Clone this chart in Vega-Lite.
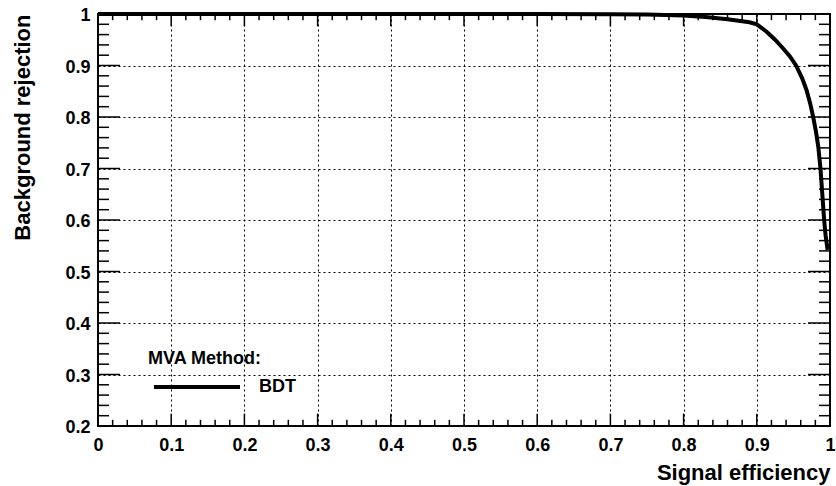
{
  "$schema": "https://vega.github.io/schema/vega-lite/v6.json",
  "width": 732,
  "height": 412,
  "autosize": "none",
  "padding": {"left": 98, "top": 14, "right": 6, "bottom": 60},
  "background": "white",
  "config": {
    "font": "Liberation Sans",
    "view": {"stroke": "black", "strokeWidth": 2}
  },
  "datasets": {
    "roc": [
      {"sig": 0.0, "bkg": 1.0, "method": "BDT"},
      {"sig": 0.1, "bkg": 1.0, "method": "BDT"},
      {"sig": 0.3, "bkg": 1.0, "method": "BDT"},
      {"sig": 0.5, "bkg": 0.9999, "method": "BDT"},
      {"sig": 0.6, "bkg": 0.9998, "method": "BDT"},
      {"sig": 0.7, "bkg": 0.9995, "method": "BDT"},
      {"sig": 0.75, "bkg": 0.999, "method": "BDT"},
      {"sig": 0.8, "bkg": 0.997, "method": "BDT"},
      {"sig": 0.83, "bkg": 0.994, "method": "BDT"},
      {"sig": 0.86, "bkg": 0.99, "method": "BDT"},
      {"sig": 0.89, "bkg": 0.984, "method": "BDT"},
      {"sig": 0.9, "bkg": 0.98, "method": "BDT"},
      {"sig": 0.913, "bkg": 0.966, "method": "BDT"},
      {"sig": 0.925, "bkg": 0.95, "method": "BDT"},
      {"sig": 0.936, "bkg": 0.933, "method": "BDT"},
      {"sig": 0.945, "bkg": 0.918, "method": "BDT"},
      {"sig": 0.9536, "bkg": 0.9, "method": "BDT"},
      {"sig": 0.962, "bkg": 0.875, "method": "BDT"},
      {"sig": 0.968, "bkg": 0.852, "method": "BDT"},
      {"sig": 0.973, "bkg": 0.826, "method": "BDT"},
      {"sig": 0.977, "bkg": 0.8, "method": "BDT"},
      {"sig": 0.981, "bkg": 0.77, "method": "BDT"},
      {"sig": 0.984, "bkg": 0.742, "method": "BDT"},
      {"sig": 0.987, "bkg": 0.7, "method": "BDT"},
      {"sig": 0.99, "bkg": 0.64, "method": "BDT"},
      {"sig": 0.992, "bkg": 0.6, "method": "BDT"},
      {"sig": 0.994, "bkg": 0.57, "method": "BDT"},
      {"sig": 0.9967, "bkg": 0.542, "method": "BDT"}
    ],
    "xMajor": [{"v":0},{"v":0.1},{"v":0.2},{"v":0.3},{"v":0.4},{"v":0.5},{"v":0.6},{"v":0.7},{"v":0.8},{"v":0.9},{"v":1}],
    "xMinor": [{"v":0.02},{"v":0.04},{"v":0.06},{"v":0.08},{"v":0.12},{"v":0.14},{"v":0.16},{"v":0.18},{"v":0.22},{"v":0.24},{"v":0.26},{"v":0.28},{"v":0.32},{"v":0.34},{"v":0.36},{"v":0.38},{"v":0.42},{"v":0.44},{"v":0.46},{"v":0.48},{"v":0.52},{"v":0.54},{"v":0.56},{"v":0.58},{"v":0.62},{"v":0.64},{"v":0.66},{"v":0.68},{"v":0.72},{"v":0.74},{"v":0.76},{"v":0.78},{"v":0.82},{"v":0.84},{"v":0.86},{"v":0.88},{"v":0.92},{"v":0.94},{"v":0.96},{"v":0.98}],
    "yMajor": [{"v":0.2},{"v":0.3},{"v":0.4},{"v":0.5},{"v":0.6},{"v":0.7},{"v":0.8},{"v":0.9},{"v":1}],
    "yMinor": [{"v":0.22},{"v":0.24},{"v":0.26},{"v":0.28},{"v":0.32},{"v":0.34},{"v":0.36},{"v":0.38},{"v":0.42},{"v":0.44},{"v":0.46},{"v":0.48},{"v":0.52},{"v":0.54},{"v":0.56},{"v":0.58},{"v":0.62},{"v":0.64},{"v":0.66},{"v":0.68},{"v":0.72},{"v":0.74},{"v":0.76},{"v":0.78},{"v":0.82},{"v":0.84},{"v":0.86},{"v":0.88},{"v":0.92},{"v":0.94},{"v":0.96},{"v":0.98}]
  },
  "resolve": {"axis": {"x": "independent", "y": "independent"}},
  "layer": [
    {
      "data": {"name": "roc"},
      "mark": {"type": "line", "strokeWidth": 4, "clip": false, "color": "black"},
      "encoding": {
        "x": {
          "field": "sig", "type": "quantitative",
          "scale": {"domain": [0, 1], "nice": false, "zero": false},
          "axis": {
            "orient": "bottom", "domain": false,
            "title": "Signal efficiency", "titleColor": "black",
            "titleFontSize": 22, "titleFontWeight": "bold",
            "titleX": 732, "titleY": 53, "titleAlign": "right", "titleBaseline": "alphabetic", "titleAngle": 0,
            "values": [0,0.1,0.2,0.3,0.4,0.5,0.6,0.7,0.8,0.9,1],
            "format": ".1~f",
            "labelFontSize": 18, "labelFontWeight": "bold", "labelColor": "black",
            "labelPadding": 10, "labelOverlap": false, "labelFlush": false, "labelBound": false,
            "ticks": false, "tickSize": 0,
            "grid": true, "gridColor": "black", "gridDash": [2, 3], "gridWidth": 1
          }
        },
        "y": {
          "field": "bkg", "type": "quantitative",
          "scale": {"domain": [0.2, 1], "nice": false, "zero": false},
          "axis": {
            "orient": "left", "domain": false,
            "title": "Background rejection", "titleColor": "black",
            "titleFontSize": 22, "titleFontWeight": "bold",
            "titleX": -69, "titleY": 0, "titleAngle": 270, "titleAlign": "right", "titleBaseline": "alphabetic",
            "values": [0.2,0.3,0.4,0.5,0.6,0.7,0.8,0.9,1],
            "format": ".1~f",
            "labelFontSize": 18, "labelFontWeight": "bold", "labelColor": "black",
            "labelPadding": 8, "labelOffset": 1.5, "labelOverlap": false, "labelFlush": false, "labelBound": false,
            "ticks": false, "tickSize": 0,
            "grid": true, "gridColor": "black", "gridDash": [2, 3], "gridWidth": 1
          }
        },
        "color": {
          "field": "method", "type": "nominal",
          "scale": {"range": ["black"]},
          "legend": {
            "title": "MVA Method:",
            "orient": "none", "legendX": 50, "legendY": 336,
            "titleFontSize": 18, "titleFontWeight": "bold", "titleColor": "black", "titlePadding": -26,
            "labelFontSize": 18, "labelFontWeight": "bold", "labelColor": "black", "labelOffset": 17,
            "symbolType": "stroke", "symbolSize": 7396, "symbolStrokeWidth": 4, "symbolOffset": 4,
            "padding": 0
          }
        }
      }
    },
    {
      "data": {"name": "xMajor"},
      "mark": {"type": "rule", "color": "black", "strokeWidth": 1.5},
      "encoding": {
        "x": {"field": "v", "type": "quantitative", "axis": null},
        "y": {"datum": 0.2, "type": "quantitative", "axis": null},
        "y2": {"datum": 0.224}
      }
    },
    {
      "data": {"name": "xMinor"},
      "mark": {"type": "rule", "color": "black", "strokeWidth": 1.5},
      "encoding": {
        "x": {"field": "v", "type": "quantitative", "axis": null},
        "y": {"datum": 0.2, "type": "quantitative", "axis": null},
        "y2": {"datum": 0.212}
      }
    },
    {
      "data": {"name": "xMajor"},
      "mark": {"type": "rule", "color": "black", "strokeWidth": 1.5},
      "encoding": {
        "x": {"field": "v", "type": "quantitative", "axis": null},
        "y": {"datum": 1, "type": "quantitative", "axis": null},
        "y2": {"datum": 0.976}
      }
    },
    {
      "data": {"name": "xMinor"},
      "mark": {"type": "rule", "color": "black", "strokeWidth": 1.5},
      "encoding": {
        "x": {"field": "v", "type": "quantitative", "axis": null},
        "y": {"datum": 1, "type": "quantitative", "axis": null},
        "y2": {"datum": 0.988}
      }
    },
    {
      "data": {"name": "yMajor"},
      "mark": {"type": "rule", "color": "black", "strokeWidth": 1.5},
      "encoding": {
        "y": {"field": "v", "type": "quantitative", "axis": null},
        "x": {"datum": 0, "type": "quantitative", "axis": null},
        "x2": {"datum": 0.03}
      }
    },
    {
      "data": {"name": "yMinor"},
      "mark": {"type": "rule", "color": "black", "strokeWidth": 1.5},
      "encoding": {
        "y": {"field": "v", "type": "quantitative", "axis": null},
        "x": {"datum": 0, "type": "quantitative", "axis": null},
        "x2": {"datum": 0.015}
      }
    },
    {
      "data": {"name": "yMajor"},
      "mark": {"type": "rule", "color": "black", "strokeWidth": 1.5},
      "encoding": {
        "y": {"field": "v", "type": "quantitative", "axis": null},
        "x": {"datum": 1, "type": "quantitative", "axis": null},
        "x2": {"datum": 0.97}
      }
    },
    {
      "data": {"name": "yMinor"},
      "mark": {"type": "rule", "color": "black", "strokeWidth": 1.5},
      "encoding": {
        "y": {"field": "v", "type": "quantitative", "axis": null},
        "x": {"datum": 1, "type": "quantitative", "axis": null},
        "x2": {"datum": 0.985}
      }
    }
  ]
}
